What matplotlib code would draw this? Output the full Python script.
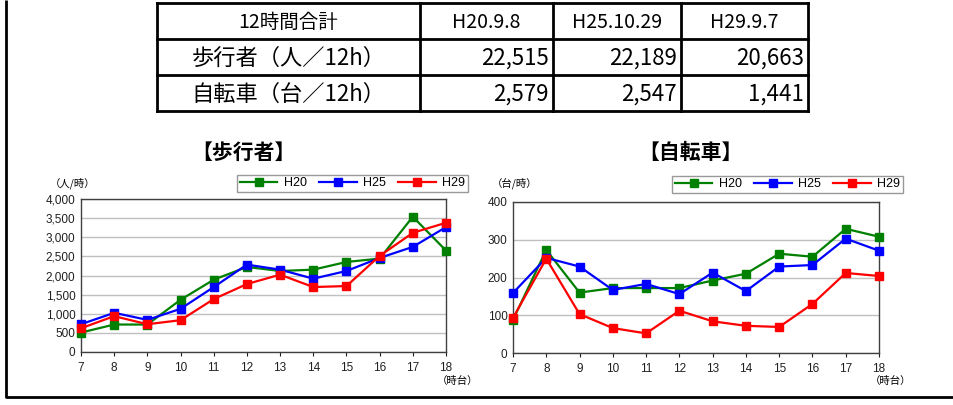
import matplotlib
matplotlib.use("Agg")
import matplotlib.pyplot as plt
from matplotlib.ticker import FuncFormatter

plt.rcParams['font.family'] = ['Liberation Sans', 'Noto Sans CJK JP', 'DejaVu Sans']

# 時間帯
hours = [7, 8, 9, 10, 11, 12, 13, 14, 15, 16, 17, 18]
series_names = ["H20", "H25", "H29"]
series_colors = ["#008000", "#0000FF", "#FF0000"]

# 歩行者（人/時）
walk_h20 = [508, 718, 718, 1365, 1890, 2223, 2118, 2153, 2354, 2442, 3536, 2652]
walk_h25 = [726, 1024, 840, 1129, 1698, 2284, 2153, 1917, 2118, 2459, 2748, 3265]
walk_h29 = [621, 937, 726, 832, 1383, 1777, 2022, 1698, 1724, 2512, 3116, 3379]

# 自転車（台/時）
bike_h20 = [88, 273, 160, 172, 172, 172, 192, 210, 263, 255, 329, 308]
bike_h25 = [159, 252, 229, 167, 183, 156, 213, 164, 229, 233, 303, 271]
bike_h29 = [93, 250, 103, 66, 52, 112, 84, 72, 69, 130, 212, 204]

# 12時間合計表
table_header = ["12時間合計", "H20.9.8", "H25.10.29", "H29.9.7"]
table_rows = ["歩行者（人／12h）", "自転車（台／12h）"]
table_values = [["22,515", "22,189", "20,663"],
                ["2,579", "2,547", "1,441"]]

W, H = 954, 405
fig = plt.figure(figsize=(W / 100, H / 100), dpi=100)

# 全体の枠・表用のオーバーレイ
bg = fig.add_axes([0, 0, 1, 1])
bg.set_xlim(0, W)
bg.set_ylim(H, 0)
bg.axis("off")
bg.plot([6, 6, W], [0, 397, 397], color="black", lw=2, solid_capstyle="butt")

col_x = [157, 420, 553, 681, 808]
row_y = [3, 39, 75, 111]
for x in col_x:
    bg.plot([x, x], [row_y[0], row_y[-1]], color="black", lw=2)
for y in row_y:
    bg.plot([col_x[0], col_x[-1]], [y, y], color="black", lw=2)

tfont = ['Noto Sans CJK JP', 'DejaVu Sans']
for j, txt in enumerate(table_header):
    bg.text((col_x[j] + col_x[j + 1]) / 2, (row_y[0] + row_y[1]) / 2 + 1, txt,
            ha="center", va="center", fontsize=14, family=tfont)
for i, lab in enumerate(table_rows):
    yc = (row_y[i + 1] + row_y[i + 2]) / 2 + 1
    bg.text((col_x[0] + col_x[1]) / 2, yc, lab, ha="center", va="center",
            fontsize=16, family=tfont)
    for j, v in enumerate(table_values[i]):
        bg.text(col_x[j + 2] - 4, yc, v, ha="right", va="center",
                fontsize=16, family=tfont)


def draw_chart(rect, data, ymax, ystep, title, title_x, unit, unit_x, leg_rect):
    ax = fig.add_axes(rect)
    for vals, name, c in zip(data, series_names, series_colors):
        ax.plot(hours, vals, color=c, lw=1.6, marker="s", markersize=5.5,
                label=name, zorder=3, clip_on=False)
    ax.set_xlim(hours[0], hours[-1])
    ax.set_ylim(0, ymax)
    ax.set_xticks(hours)
    ax.set_yticks(range(0, ymax + 1, ystep))
    ax.yaxis.set_major_formatter(FuncFormatter(lambda v, p: f"{int(v):,}"))
    ax.grid(axis="y", color="#c0c0c0", lw=1)
    ax.set_axisbelow(True)
    for s in ax.spines.values():
        s.set_color("#404040")
        s.set_linewidth(1)
    ax.tick_params(axis="both", labelsize=8.5, length=3, width=0.8, pad=4,
                   colors="#202020")
    ax.tick_params(axis="y", length=0)
    fig.text(title_x / W, 1 - 152 / H, title, ha="center", va="center",
             fontsize=15, fontweight="bold", family=tfont)
    fig.text(unit_x / W, 1 - 183 / H, unit, ha="left", va="center",
             fontsize=7.5, family=tfont)
    fig.text((rect[0] + rect[2]) + 12 / W, 1 - 381 / H, "（時台）", ha="center",
             va="center", fontsize=7.5, family=tfont)
    h, l = ax.get_legend_handles_labels()
    fig.legend(h, l, loc="center", bbox_to_anchor=leg_rect, ncol=3, fontsize=9,
               frameon=True, fancybox=False, edgecolor="#808080",
               handlelength=3, columnspacing=1.0, borderpad=0.2,
               handletextpad=0.5)
    return ax


draw_chart([81 / W, 1 - 352 / H, 365 / W, 153 / H],
           [walk_h20, walk_h25, walk_h29], 4000, 500,
           "【歩行者】", 243, "（人/時）", 50,
           (242 / W, 1 - 192 / H, 221 / W, 18 / H))
draw_chart([513 / W, 1 - 353 / H, 366 / W, 151 / H],
           [bike_h20, bike_h25, bike_h29], 400, 100,
           "【自転車】", 690, "（台/時）", 492,
           (671 / W, 1 - 194 / H, 233 / W, 19 / H))

fig.savefig("out.png", dpi=100)
